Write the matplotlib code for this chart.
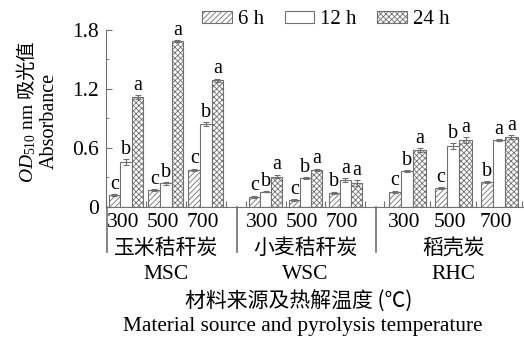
import numpy as np
import matplotlib
matplotlib.use('Agg')
import matplotlib.pyplot as plt

plt.rcParams['font.family'] = ['Liberation Serif', 'Noto Sans CJK SC']
plt.rcParams['mathtext.fontset'] = 'custom'
plt.rcParams['mathtext.rm'] = 'Liberation Serif'
plt.rcParams['mathtext.it'] = 'Liberation Serif:italic'
plt.rcParams['hatch.linewidth'] = 0.6

groups_cn = ['玉米秸秆炭', '小麦秸秆炭', '稻壳炭']
groups_en = ['MSC', 'WSC', 'RHC']
temps = ['300', '500', '700']
series = ['6 h', '12 h', '24 h']

# rows: MSC300, MSC500, MSC700, WSC300, ..., RHC700
v6 = [0.12, 0.17, 0.38, 0.105, 0.07, 0.145, 0.155, 0.19, 0.25]
v12 = [0.46, 0.24, 0.84, 0.155, 0.29, 0.275, 0.365, 0.62, 0.68]
v24 = [1.12, 1.69, 1.29, 0.31, 0.38, 0.24, 0.58, 0.68, 0.71]
e6 = [0.01, 0.01, 0.01, 0.01, 0.01, 0.01, 0.01, 0.01, 0.01]
e12 = [0.03, 0.015, 0.02, 0.005, 0.01, 0.02, 0.01, 0.03, 0.01]
e24 = [0.02, 0.01, 0.015, 0.02, 0.01, 0.03, 0.02, 0.03, 0.02]
l6 = ['c', 'c', 'c', 'c', 'c', 'b', 'c', 'c', 'b']
l12 = ['b', 'b', 'b', 'b', 'b', 'a', 'b', 'b', 'a']
l24 = ['a', 'a', 'a', 'a', 'a', 'a', 'a', 'a', 'a']

# layout of the three groups
g_start = [0.0, 3.5, 7.05]
g_step = [1.0, 1.0, 1.15]
g_width = [0.29, 0.28, 0.31]

centers, widths = [], []
for s, st, w in zip(g_start, g_step, g_width):
    for k in range(3):
        centers.append(s + k * st)
        widths.append(w)
centers = np.array(centers)
widths = np.array(widths)

fig = plt.figure(figsize=(5.24, 3.4), dpi=100)
ax = fig.add_axes([106 / 524, 1 - 207 / 340, 1 - 106 / 524, 177 / 340])

edge = '#707070'
styles = [dict(facecolor='white', hatch='//////'),
          dict(facecolor='white', hatch=''),
          dict(facecolor='white', hatch='xxxxxx')]
vals = [v6, v12, v24]
errs = [e6, e12, e24]
labs = [l6, l12, l24]
handles = []
for j in range(3):
    x = centers + (j - 1) * widths
    b = ax.bar(x, vals[j], width=widths, edgecolor=edge, linewidth=0.8,
               yerr=errs[j], ecolor=edge, capsize=2,
               error_kw=dict(elinewidth=0.8, capthick=0.8),
               label=series[j], **styles[j])
    handles.append(b)
    for xi, v, e, t in zip(x, vals[j], errs[j], labs[j]):
        ax.text(xi, v + e + 0.003, t, ha='center', va='bottom', fontsize=14.5)

ax.set_ylim(0, 1.8)
ax.set_xlim(-0.475, 9.975)
ax.set_yticks([0, 0.6, 1.2, 1.8])
ax.set_yticklabels(['0', '0.6', '1.2', '1.8'])
ax.set_yticks([0.3, 0.9, 1.5], minor=True)
ax.tick_params(axis='y', which='both', direction='in', colors=edge,
               labelcolor='black', labelsize=15.5, pad=5)
ax.tick_params(axis='y', which='major', length=4)
ax.tick_params(axis='y', which='minor', length=2.5)

# x ticks at cluster boundaries
bounds = []
for s, st in zip(g_start, g_step):
    for k in range(4):
        bounds.append(s + (k - 0.5) * st)
ax.set_xticks(bounds)
ax.set_xticklabels([])
ax.tick_params(axis='x', direction='in', length=4, colors=edge)

for sp in ['top', 'right']:
    ax.spines[sp].set_visible(False)
for sp in ['left', 'bottom']:
    ax.spines[sp].set_color(edge)

tr = ax.get_xaxis_transform()
for xd in [-0.475, 2.775, 6.275]:
    ax.plot([xd, xd], [0, -0.254], color=edge, lw=1.2, transform=tr,
            clip_on=False)

for c, t in zip(centers, temps * 3):
    ax.text(c - 0.08, -0.085, t, transform=tr, ha='center', va='center',
            fontsize=15.5)
for gi in range(3):
    cx = g_start[gi] + g_step[gi]
    ax.text(cx, -0.232, groups_cn[gi], transform=tr, ha='center',
            va='center', fontsize=15, family='Noto Sans CJK SC')
    ax.text(cx, -0.379, groups_en[gi], transform=tr, ha='center',
            va='center', fontsize=15.5)

fig.text(0.57, 1 - 302 / 340, '材料来源及热解温度 (℃)', ha='center',
         va='center', fontsize=15, family=['Noto Sans CJK SC', 'Liberation Serif'])
fig.text(0.578, 1 - 327 / 340, 'Material source and pyrolysis temperature',
         ha='center', va='center', fontsize=15.3)

fig.text(27 / 524, 1 - 112 / 340, r'$OD_{510}\ \mathrm{nm}$ 吸光值',
         rotation=90, ha='center', va='center', fontsize=14,
         family='Noto Sans CJK SC')
fig.text(49 / 524, 1 - 121 / 340, 'Absorbance', rotation=90, ha='center',
         va='center', fontsize=14.5)

fig.legend(handles=handles, labels=series, loc='center',
           bbox_to_anchor=(0.622, 1 - 20 / 340), ncol=3, frameon=False,
           fontsize=15, handlelength=1.4, handleheight=0.5,
           handletextpad=0.3, columnspacing=1.0)

fig.savefig('out.png', dpi=100)
